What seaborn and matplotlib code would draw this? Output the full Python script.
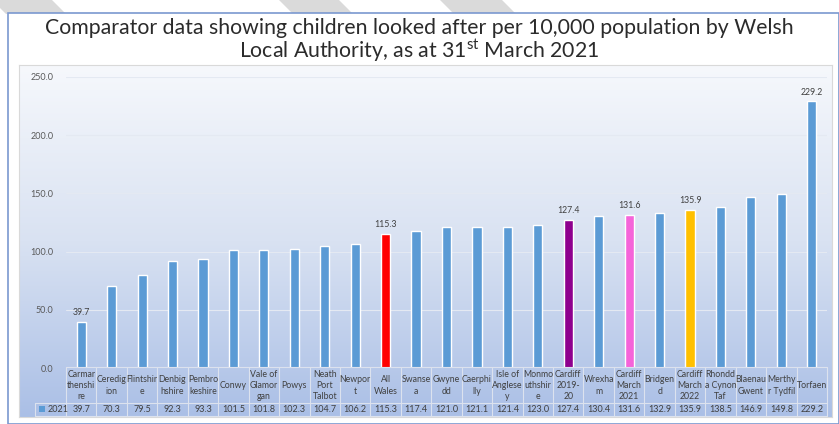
import numpy as np
import pandas as pd
import matplotlib
matplotlib.use("Agg")
import matplotlib.pyplot as plt
import matplotlib.transforms as mtransforms
from matplotlib.lines import Line2D
from matplotlib.patches import Polygon, Rectangle
import seaborn as sns

# Dados
categorias = ["Carmarthenshire", "Ceredigion", "Flintshire", "Denbighshire", "Pembrokeshire",
              "Conwy", "Vale of Glamorgan", "Powys", "Neath Port Talbot", "Newport",
              "All Wales", "Swansea", "Gwynedd", "Caerphilly", "Isle of Anglesey",
              "Monmouthshire", "Cardiff 2019-20", "Wrexham", "Cardiff March 2021", "Bridgend",
              "Cardiff March 2022", "Rhondda Cynon Taf", "Blaenau Gwent", "Merthyr Tydfil", "Torfaen"]
rotulos_tabela = ["Carmar\nthenshi\nre", "Ceredig\nion", "Flintshir\ne", "Denbig\nhshire",
                  "Pembro\nkeshire", "Conwy", "Vale of\nGlamor\ngan", "Powys", "Neath\nPort\nTalbot",
                  "Newpor\nt", "All\nWales", "Swanse\na", "Gwyne\ndd", "Caerphi\nlly",
                  "Isle of\nAnglese\ny", "Monmo\nuthshir\ne", "Cardiff\n2019-\n20", "Wrexha\nm",
                  "Cardiff\nMarch\n2021", "Bridgen\nd", "Cardiff\nMarch\n2022", "Rhondd\na Cynon\nTaf",
                  "Blaenau\nGwent", "Merthy\nr Tydfil", "Torfaen"]
valores_2021 = [39.7, 70.3, 79.5, 92.3, 93.3, 101.5, 101.8, 102.3, 104.7, 106.2,
                115.3, 117.4, 121.0, 121.1, 121.4, 123.0, 127.4, 130.4, 131.6, 132.9,
                135.9, 138.5, 146.9, 149.8, 229.2]
destaques = {"All Wales": "#FF0000", "Cardiff 2019-20": "#8E008E",
             "Cardiff March 2021": "#F564D9", "Cardiff March 2022": "#FFC000"}
com_rotulo = ["Carmarthenshire", "All Wales", "Cardiff 2019-20", "Cardiff March 2021",
              "Cardiff March 2022", "Torfaen"]

df = pd.DataFrame({"categoria": categorias, "valor": valores_2021})
azul = "#5B9BD5"
cores = [destaques.get(c, azul) for c in categorias]

sns.set_theme(style="white")
plt.rcParams["font.family"] = ["Lato", "DejaVu Sans"]
plt.rcParams["mathtext.fontset"] = "custom"
plt.rcParams["mathtext.rm"] = "Lato"

W, H = 839, 424
fig = plt.figure(figsize=(W / 100, H / 100), dpi=100)
fig.patch.set_facecolor("white")

def fx(px):
    return px / W

def fy(py):
    return 1 - py / H

# faixas cinzas decorativas no topo
for x0, larg in [(-8, 60), (279, 60), (440, 62)]:
    fig.add_artist(Polygon([(fx(x0), fy(0)), (fx(x0 + larg), fy(0)), (fx(x0 + larg + 14), fy(14)),
                            (fx(x0 + 14), fy(14))], closed=True, transform=fig.transFigure,
                           facecolor="#DADADA", edgecolor="none", zorder=0))
# moldura externa
fig.add_artist(Rectangle((fx(8), fy(424)), fx(839 - 8), fy(13) - fy(424), transform=fig.transFigure,
                         facecolor="white", edgecolor="#7A98D0", lw=1.2, zorder=1))

# fundo em gradiente
ax_bg = fig.add_axes([fx(19), fy(417), fx(832 - 19), fy(65) - fy(417)], zorder=2)
grad = np.linspace(0, 1, 256).reshape(-1, 1)
cmap = matplotlib.colors.LinearSegmentedColormap.from_list("g", ["#F6F8FC", "#D9E2F2", "#AABFE6"])
ax_bg.imshow(grad, aspect="auto", cmap=cmap, extent=[0, 1, 0, 1], origin="upper")
ax_bg.set_xticks([])
ax_bg.set_yticks([])
for s in ax_bg.spines.values():
    s.set_color("#D9D9D9")
    s.set_linewidth(0.8)

# eixo principal
ax = fig.add_axes([fx(66), fy(368), fx(827 - 66), fy(77) - fy(368)], zorder=3)
ax.patch.set_alpha(0)
sns.barplot(data=df, x="categoria", y="valor", hue="categoria", palette=cores,
            width=0.3, legend=False, ax=ax, saturation=1, zorder=3)
ax.set_xlim(-0.5, len(categorias) - 0.5)
ax.set_ylim(0, 250)
ax.set_yticks(np.arange(0, 251, 50))
ax.set_yticklabels([f"{v:.1f}" for v in np.arange(0, 251, 50)], fontsize=6.5, color="#595959")
ax.tick_params(axis="y", length=0, pad=9)
ax.set_xticks([])
ax.set_xlabel("")
ax.set_ylabel("")
ax.grid(axis="y", color="#E4E9F2", lw=0.8, zorder=0)
ax.set_axisbelow(True)
for s in ax.spines.values():
    s.set_visible(False)

for i, (c, v) in enumerate(zip(categorias, valores_2021)):
    if c in com_rotulo:
        ax.text(i, v + 4, f"{v:.1f}", ha="center", va="bottom", fontsize=6.3, color="#404040")

fig.text(0.5, fy(28), "Comparator data showing children looked after per 10,000 population by Welsh",
         ha="center", va="center", fontsize=15.3, color="#2B2B2B")
fig.text(0.5, fy(51), r"Local Authority, as at 31$\mathregular{^{st}}$ March 2021",
         ha="center", va="center", fontsize=15.3, color="#2B2B2B")

# tabela de dados
tr = mtransforms.blended_transform_factory(ax.transData, fig.transFigure)
linha = "#DCE2EE"
n = len(categorias)
fig.add_artist(Line2D([-0.5, n - 0.5], [fy(367), fy(367)], transform=tr, color=linha, lw=0.8, zorder=4))
for yy in [403, 416]:
    fig.add_artist(Line2D([fx(35), fx(827)], [fy(yy), fy(yy)], transform=fig.transFigure,
                          color=linha, lw=0.8, zorder=4))
fig.add_artist(Line2D([fx(35), fx(35)], [fy(403), fy(416)], transform=fig.transFigure,
                      color=linha, lw=0.8, zorder=4))
for i in range(n + 1):
    fig.add_artist(Line2D([i - 0.5, i - 0.5], [fy(367), fy(416)], transform=tr,
                          color=linha, lw=0.8, zorder=4))
for i, (rot, v) in enumerate(zip(rotulos_tabela, valores_2021)):
    fig.text(i, fy(385.5), rot, transform=tr, ha="center", va="center", fontsize=6.3,
             color="#404040", linespacing=1.35, zorder=5)
    fig.text(i, fy(409.5), f"{v:.1f}", transform=tr, ha="center", va="center", fontsize=6.5,
             color="#404040", zorder=5)
fig.add_artist(Rectangle((fx(39), fy(412)), fx(6), fy(406) - fy(412), transform=fig.transFigure,
                         facecolor=azul, edgecolor="none", zorder=5))
fig.text(fx(48), fy(409.5), "2021", ha="left", va="center", fontsize=6.5, color="#404040", zorder=5)

fig.savefig("out.png", dpi=100)
